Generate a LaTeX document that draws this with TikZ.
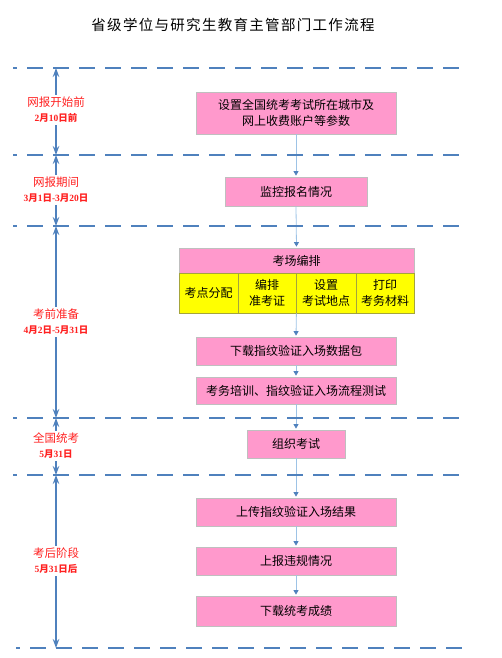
\documentclass[tikz,border=0pt]{standalone}
\usepackage{fontspec}
\usetikzlibrary{arrows.meta}
\newfontfamily\cjk{Noto Sans CJK SC}
\newfontfamily\cjktitle[LetterSpace=9]{Noto Sans CJK SC}
\newfontfamily\tnr{Liberation Serif}
\definecolor{dashblue}{HTML}{4F81BD}
\definecolor{connblue}{HTML}{9DC3E6}
\definecolor{pinkf}{HTML}{FF99CC}
\definecolor{pinkd}{HTML}{BFBFBF}
\definecolor{yelf}{HTML}{FFFF00}
\definecolor{yeld}{HTML}{A5A53C}
\definecolor{lblred}{HTML}{FF2020}
\newcommand{\dg}[1]{{\tnr\bfseries #1}}
\tikzset{
  pbox/.style={draw=pinkd, fill=pinkf, line width=0.8pt, inner sep=0pt, align=center,
    font=\fontsize{12}{16}\selectfont\cjk, text=black},
  ybox/.style={draw=yeld, fill=yelf, line width=0.8pt, inner sep=0pt, align=center,
    font=\fontsize{12}{16}\selectfont\cjk, text=black, minimum height=40pt},
  conn/.style={draw=connblue, line width=0.8pt, shorten >=1pt,
    -{Triangle[length=4.5pt,width=5pt,color=dashblue]}},
  sarrow/.style={draw=dashblue, line width=1.1pt, -{Stealth[length=9pt,width=6.5pt]}},
  divline/.style={draw=dashblue, line width=2.2pt, dash pattern=on 16pt off 10pt, dash phase=12pt},
  phase/.style={align=center, text=lblred, inner sep=2pt, font=\fontsize{11.5}{15}\selectfont\cjk},
}
\newcommand{\datefont}{\fontsize{9.5}{15}\selectfont\bfseries}
\begin{document}
\begin{tikzpicture}[x=1pt,y=-1pt]
\useasboundingbox (0,0) rectangle (501,658);
% title
\node (title) at (233,25) {\fontsize{14.5}{17}\selectfont\cjktitle 省级学位与研究生教育主管部门工作流程};

% boxes
\node[pbox, minimum width=200pt, minimum height=42pt] (b1) at (296,113) {设置全国统考考试所在城市及\\网上收费账户等参数};
\node[pbox, minimum width=142pt, minimum height=29pt] (b2) at (296,191.5) {监控报名情况};
\node[pbox, minimum width=235pt, minimum height=25pt] (hdr) at (296.5,260.5) {考场编排};
\node[ybox, minimum width=59pt] (c1) at (208.5,293) {考点分配};
\node[ybox, minimum width=58pt] (c2) at (267,293) {编排\\准考证};
\node[ybox, minimum width=60pt] (c3) at (326,293) {设置\\考试地点};
\node[ybox, minimum width=58pt] (c4) at (385,293) {打印\\考务材料};
\node[pbox, minimum width=200pt, minimum height=28pt] (b4) at (296,351) {下载指纹验证入场数据包};
\node[pbox, minimum width=200pt, minimum height=27pt] (b5) at (296,390.5) {考务培训、指纹验证入场流程测试};
\node[pbox, minimum width=98pt, minimum height=28pt] (b6) at (296,444) {组织考试};
\node[pbox, minimum width=200pt, minimum height=28pt] (b7) at (296,512) {上传指纹验证入场结果};
\node[pbox, minimum width=200pt, minimum height=28pt] (b8) at (296,561) {上报违规情况};
\node[pbox, minimum width=200pt, minimum height=30pt] (b9) at (296,611) {下载统考成绩};

% connectors
\draw[conn] (b1.south) -- (b2.north);
\draw[conn] (b2.south) -- (hdr.north);
\draw[conn] (c2.south east) -- (b4.north);
\draw[conn] (b4.south) -- (b5.north);
\draw[conn] (b5.south) -- (b6.north);
\draw[conn] (b6.south) -- (b7.north);
\draw[conn] (b7.south) -- (b8.north);
\draw[conn] (b8.south) -- (b9.north);

% divider lines
\draw[divline] (13,68) -- (459,68);
\draw[divline] (13,155) -- (459,155);
\draw[divline] (13,226) -- (459,226);
\draw[divline] (13,418) -- (459,418);
\draw[divline] (13,475) -- (459,475);
\draw[divline] (16,648) -- (462,648);

\coordinate (d1) at (56,68);
\coordinate (d2) at (56,155);
\coordinate (d3) at (56,226);
\coordinate (d4) at (56,418);
\coordinate (d5) at (56,475);
\coordinate (d6) at (56,648);

% phase labels
\node[phase] (s1) at (56,110) {网报开始前\\{\datefont\dg{2}月\dg{10}日前}};
\node[phase] (s2) at (56,190) {网报期间\\{\datefont\dg{3}月\dg{1}日\dg{-3}月\dg{20}日}};
\node[phase] (s3) at (56,322) {考前准备\\{\datefont\dg{4}月\dg{2}日\dg{-5}月\dg{31}日}};
\node[phase] (s4) at (56,446) {全国统考\\{\datefont\dg{5}月\dg{31}日}};
\node[phase] (s5) at (56,561) {考后阶段\\{\datefont\dg{5}月\dg{31}日后}};

\draw[sarrow] (s1.north) -- (d1);
\draw[sarrow] (s1.south) -- (d2);
\draw[sarrow] (s2.north) -- (d2);
\draw[sarrow] (s2.south) -- (d3);
\draw[sarrow] (s3.north) -- (d3);
\draw[sarrow] (s3.south) -- (d4);
\draw[sarrow] (s4.north) -- (d4);
\draw[sarrow] (s4.south) -- (d5);
\draw[sarrow] (s5.north) -- (d5);
\draw[sarrow] (s5.south) -- (d6);
\end{tikzpicture}
\end{document}
